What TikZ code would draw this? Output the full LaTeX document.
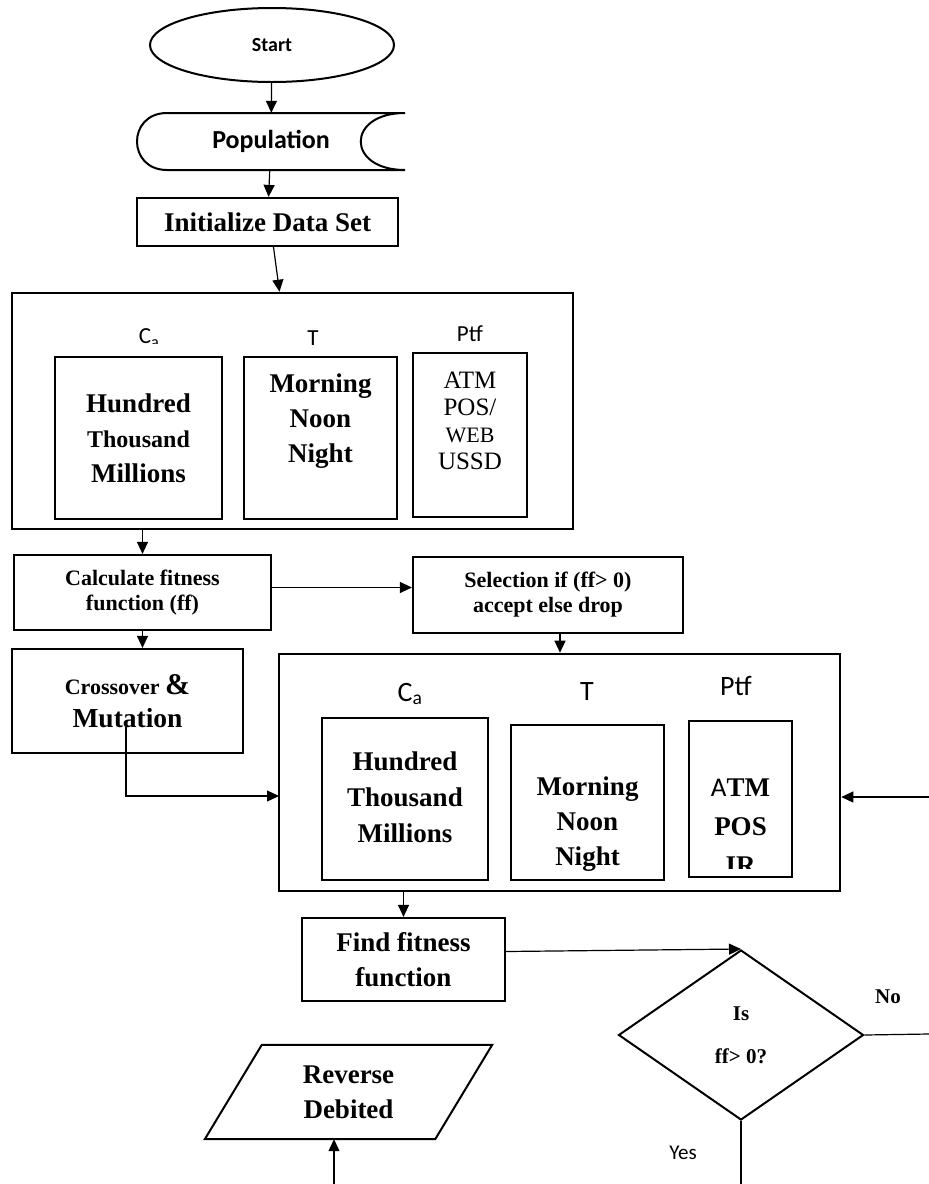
\documentclass[tikz,border=0pt]{standalone}
\usepackage{fontspec}
\setmainfont{Liberation Serif}
\newfontfamily\calibri{Carlito}
\usetikzlibrary{arrows.meta, positioning, shapes.geometric}

\begin{document}
\begin{tikzpicture}[
    x=1pt, y=-1pt,
    arrow/.style={-{Triangle[length=12pt,width=11pt]}, line width=1.2pt},
    link/.style={line width=1.2pt},
    box/.style={rectangle, draw, line width=2.2pt, inner sep=0pt},
    panel/.style={rectangle, draw, line width=2.6pt, inner sep=0pt},
    tag/.style={font=\calibri\fontsize{23}{26}\selectfont},
    bigtag/.style={font=\calibri\fontsize{28}{30}\selectfont},
    heavy/.style={font=\fontsize{27}{35}\selectfont\bfseries, align=center},
    medium/.style={font=\fontsize{22}{25}\selectfont\bfseries, align=center}
]
\useasboundingbox (0,0) rectangle (929,1184);

\node[ellipse, draw, line width=2pt, minimum width=244pt, minimum height=74pt,
      font=\calibri\bfseries\fontsize{20}{24}\selectfont] (start) at (272,45) {Start};

\node[minimum width=268pt, minimum height=57pt, inner sep=0pt,
      font=\calibri\bfseries\fontsize{26}{30}\selectfont] (pop) at (271,141.5) {Population};
\draw[line width=2pt] (405,113) -- (167,113) .. controls (127,113) and (127,170) .. (167,170)
    -- (405,170) .. controls (346,170) and (346,113) .. (405,113);

\node[box, minimum width=261pt, minimum height=48pt, heavy] (init) at (267.5,222) {Initialize Data Set};

\node[panel, minimum width=561pt, minimum height=236pt] (frameA) at (292.5,411) {};
\node[box, minimum width=167pt, minimum height=162pt] (amtA) at (138.5,438) {};
\node[box, minimum width=153pt, minimum height=162pt] (timeA) at (320.5,438) {};
\node[box, minimum width=114pt, minimum height=164pt] (chanA) at (470,435) {};
\node[heavy] at (amtA) {Hundred\\{\fontsize{24}{35}\selectfont Thousand}\\Millions};
\node[heavy] at ([yshift=17pt]timeA) {Morning\\Noon\\Night};
\node[font=\fontsize{25}{27}\selectfont, align=center] at ([yshift=14pt]chanA)
    {ATM\\POS/\\{\fontsize{22}{27}\selectfont WEB}\\USSD};
\begin{scope}
  \clip (0,300) rectangle (929,343);
  \node[tag] at (149,338) {C\textsubscript{a}};
\end{scope}
\node[tag] at (313,338) {T};
\node[tag] at (470,334) {Ptf};

\node[box, minimum width=257pt, minimum height=75pt, medium] (calc) at (142.5,592.5)
    {Calculate fitness\\function (ff)};
\node[box, minimum width=270pt, minimum height=76pt, medium] (sel) at (548,595)
    {Selection if (ff> 0)\\accept else drop};
\node[box, minimum width=231pt, minimum height=104pt, align=center,
      font=\fontsize{22}{33}\selectfont\bfseries] (cross) at (127.5,701)
    {Crossover {\fontsize{30}{33}\selectfont\&}\\{\fontsize{27.5}{33}\selectfont Mutation}};

\node[panel, minimum width=561pt, minimum height=237pt] (frameB) at (559.5,772.5) {};
\node[box, minimum width=166pt, minimum height=162pt] (amtB) at (405,799) {};
\node[box, minimum width=153pt, minimum height=155pt] (timeB) at (587.5,802.5) {};
\node[box, minimum width=103pt, minimum height=156pt] (chanB) at (740.5,799) {};
\node[heavy, font=\fontsize{27}{36}\selectfont\bfseries] at ([yshift=2pt]amtB) {Hundred\\Thousand\\Millions};
\begin{scope}
  \clip (timeB.north west) rectangle ([yshift=11pt]timeB.south east);
  \node[heavy, font=\fontsize{27}{35}\selectfont\bfseries] at ([yshift=-22pt]timeB) {Morning\\Noon\\Night};
\end{scope}
\begin{scope}
  \clip (chanB.north west) rectangle ([yshift=10pt]chanB.south east);
  \node[heavy, font=\fontsize{27}{39}\selectfont\bfseries] at ([yshift=-28pt]chanB)
      {{\calibri\mdseries A}TM\\POS\\IR};
\end{scope}
\node[bigtag] at (410,694) {C\textsubscript{a}};
\node[bigtag] at (587,692) {T};
\node[bigtag] at (736,686) {Ptf};

\node[box, minimum width=203pt, minimum height=83pt, heavy] (find) at (403.5,959.5)
    {Find fitness\\function};

\node[diamond, draw, line width=2pt, minimum width=245pt, minimum height=170pt, inner sep=0pt,
      align=center, font=\fontsize{21}{24}\selectfont\bfseries] (dec) at (741,1035) {Is\\[19pt]ff> 0?};
\node[font=\fontsize{21}{24}\selectfont\bfseries] (nolbl) at (888,997) {No};
\node[font=\calibri\fontsize{21}{24}\selectfont] (yeslbl) at (683,1153) {Yes};

\node[minimum width=230pt, minimum height=94pt, inner sep=0pt, heavy] (rev) at (348.5,1092)
    {Reverse\\Debited};
\draw[line width=2pt] ([xshift=28.5pt]rev.north west) -- ([xshift=28.5pt]rev.north east)
    -- ([xshift=-28.5pt]rev.south east) -- ([xshift=-28.5pt]rev.south west) -- cycle;

\coordinate (mutout) at (126,727);
\coordinate (frameBin) at (279,796);
\coordinate (loopin) at (929,797);
\coordinate (noend) at (929,1034);
\coordinate (yesend) at (741,1184);
\coordinate (revin) at (334,1184);

\draw[arrow] (start) -- (pop);
\draw[arrow] (pop) -- (init);
\draw[arrow] ([xshift=6pt]init.south) -- ([xshift=-13pt]frameA.north);
\draw[arrow] (calc.north |- frameA.south) -- (calc.north);
\draw[arrow] ([yshift=5pt]calc.east) -- ([yshift=5pt]calc.east -| sel.west);
\draw[arrow] (calc.south) -- (calc.south |- cross.north);
\draw[arrow] ([xshift=12pt]sel.south) -- ([xshift=12pt]sel.south |- frameB.north);
\draw[arrow] (mutout) |- (frameBin);
\draw[arrow] (loopin) -- (loopin -| frameB.east);
\draw[arrow] (find.north |- frameB.south) -- (find.north);
\draw[arrow] ([yshift=8pt]find.east) -- (dec.north);
\draw[link] (dec.east) -- (noend);
\draw[link] (dec.south) -- (yesend);
\draw[arrow] (revin) -- (revin |- rev.south);

\end{tikzpicture}
\end{document}
